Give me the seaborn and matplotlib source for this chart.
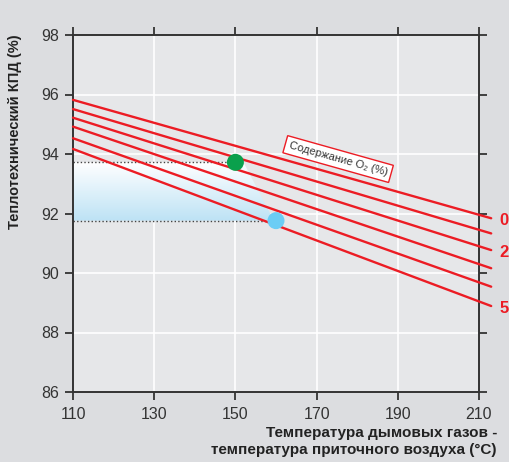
import numpy as np
import pandas as pd
import matplotlib
matplotlib.use("Agg")
import matplotlib.pyplot as plt
from matplotlib.patches import Polygon
from matplotlib.colors import LinearSegmentedColormap
import seaborn as sns

# ---- data ----
o2_levels = [0, 1, 2, 3, 4, 5]
temp_start = 110
temp_end = 213
eff_start = [95.82, 95.51, 95.22, 94.92, 94.53, 94.17]
eff_end = [91.84, 91.33, 90.77, 90.16, 89.54, 88.89]
o2_labels = {0: "0", 2: "2", 5: "5"}

green_pt = (150, 93.72)
blue_pt = (160, 91.76)
shade_poly = [(110, 93.72), (152, 93.72), (159.5, 91.76), (110, 91.76)]

x_ticks = [110, 130, 150, 170, 190, 210]
y_ticks = [86, 88, 90, 92, 94, 96, 98]

# ---- style ----
sns.set_theme(style="whitegrid")
plt.rcParams["font.family"] = ["Liberation Sans", "DejaVu Sans"]
outer_bg = "#dcdde0"
inner_bg = "#e6e7e9"
red = "#ec1c24"
dark = "#333333"

fig = plt.figure(figsize=(5.1, 4.62), dpi=100, facecolor=outer_bg)
ax = fig.add_axes([73 / 510, 1 - 392 / 462, (479 - 73) / 510, (392 - 35) / 462])
ax.set_facecolor(inner_bg)

rows = []
for lvl, a, b in zip(o2_levels, eff_start, eff_end):
    rows.append({"o2": lvl, "temp": temp_start, "eff": a})
    rows.append({"o2": lvl, "temp": temp_end, "eff": b})
df = pd.DataFrame(rows)

# gradient shaded area
poly = Polygon(shade_poly, closed=True, facecolor="none", edgecolor="none")
ax.add_patch(poly)
grad = np.linspace(0, 1, 256).reshape(-1, 1)
cmap = LinearSegmentedColormap.from_list("g", ["#ffffff", "#bde2f5"])
im = ax.imshow(grad, cmap=cmap, aspect="auto",
               extent=[110, 160, 91.76, 93.72], origin="upper", zorder=1)
im.set_clip_path(poly)

# dotted guide lines
ax.plot([110, green_pt[0]], [green_pt[1], green_pt[1]], color="#444444",
        lw=1.0, linestyle=(0, (1, 1.6)), zorder=2)
ax.plot([110, blue_pt[0]], [blue_pt[1], blue_pt[1]], color="#444444",
        lw=1.0, linestyle=(0, (1, 1.6)), zorder=2)

sns.lineplot(data=df, x="temp", y="eff", units="o2", estimator=None,
             color=red, lw=1.7, ax=ax, zorder=3)
for ln in ax.get_lines()[2:]:
    ln.set_clip_on(False)

pts = pd.DataFrame({"temp": [green_pt[0], blue_pt[0]],
                    "eff": [green_pt[1], blue_pt[1]],
                    "kind": ["g", "b"]})
sns.scatterplot(data=pts, x="temp", y="eff", hue="kind",
                palette={"g": "#0aa04c", "b": "#6bcdf5"}, s=150,
                edgecolor="none", legend=False, ax=ax, zorder=5)

# O2 labels at right
for lvl, lab in o2_labels.items():
    ax.text(temp_end + 2.0, eff_end[lvl] - 0.08, lab, color=red,
            fontsize=12, fontweight="bold", ha="left", va="center",
            clip_on=False)

# annotation box
ax.text(175.3, 93.83, "Содержание O₂ (%)", rotation=-15.7,
        rotation_mode="anchor", ha="center", va="center",
        fontsize=8, color="#333333", zorder=6,
        bbox=dict(boxstyle="square,pad=0.35", fc="white", ec=red, lw=1.0))

ax.set_xlim(110, 210)
ax.set_ylim(86, 98)
ax.set_xticks(x_ticks)
ax.set_yticks(y_ticks)
ax.grid(True, color="white", lw=1.2)
ax.set_axisbelow(True)
for s in ax.spines.values():
    s.set_visible(True)
    s.set_color(dark)
    s.set_linewidth(1.4)
ax.tick_params(axis="both", which="both", direction="out", length=6,
               width=1.3, color=dark, labelsize=11.5, labelcolor=dark,
               top=True, right=True, bottom=True, left=True,
               labeltop=False, labelright=False)
ax.tick_params(axis="x", pad=5)
ax.tick_params(axis="y", pad=4)
ax.set_xlabel("")
ax.set_ylabel("")

fig.text(497 / 510, 1 - 426 / 462,
         "Температура дымовых газов -\nтемпература приточного воздуха (°C)",
         ha="right", va="top", fontsize=11, fontweight="bold",
         color="#222222", linespacing=1.3)
fig.text(15 / 510, 1 - 131.5 / 462, "Теплотехнический КПД (%)",
         rotation=90, ha="center", va="center", fontsize=10.5,
         fontweight="bold", color="#222222")

fig.savefig("out.png", dpi=100, facecolor=outer_bg)
